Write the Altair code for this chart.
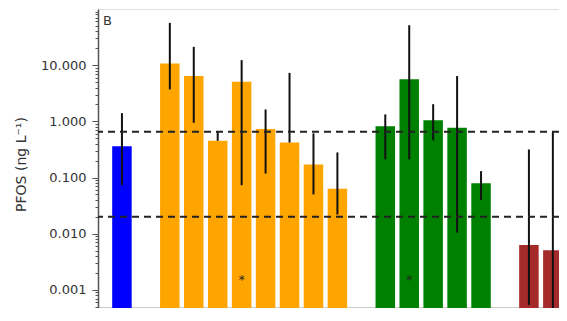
import altair as alt
import pandas as pd

# ---- data ----
positions = [0, 2, 3, 4, 5, 6, 7, 8, 9, 11, 12, 13, 14, 15, 17, 18]
groups = ["A"] + ["B"] * 8 + ["C"] * 5 + ["D"] * 2
values = [0.36, 10.7, 6.4, 0.45, 5.05, 0.73, 0.42, 0.17, 0.063,
          0.82, 5.6, 1.05, 0.77, 0.079, 0.0063, 0.0051]
err_low = [0.073, 3.7, 0.94, 0.45, 0.073, 0.118, 0.42, 0.050, 0.022,
           0.21, 0.21, 0.46, 0.0105, 0.040, 0.00054, 0.0003]
err_high = [1.4, 56.6, 21.2, 0.65, 12.3, 1.63, 7.3, 0.61, 0.28,
            1.33, 51.5, 2.02, 6.4, 0.13, 0.316, 0.65]
group_colors = ["#0000FF", "#FFA500", "#008000", "#A52A2A"]
thresholds = [0.65, 0.02]
star_positions = [5, 12]
star_value = [0.0016, 0.0016]

df = pd.DataFrame({"pos": positions, "group": groups, "value": values,
                   "lo": err_low, "hi": err_high})
thr = pd.DataFrame({"t": thresholds})
stars = pd.DataFrame({"pos": star_positions, "v": star_value, "s": ["*", "*"]})

SLOT = 23.94      # px per bar slot in the reference
DEC = 56.18       # px per decade in the reference
W, H = 461, 299
ymax = 100.0
ymin = 10 ** (2 - H / DEC)
minor = [k * 10 ** e for e in range(-4, 2) for k in range(1, 10)
         if ymin <= k * 10 ** e <= ymax]

is_decade = "abs(log(datum.value)/LN10 - round(log(datum.value)/LN10)) < 1e-6"

xscale = alt.Scale(domain=[-1, -1 + W / SLOT], nice=False, zero=False, padding=0)
yscale = alt.Scale(type="log", domain=[ymin, ymax], nice=False, padding=0)

xaxis = alt.Axis(values=positions, labels=False, title=None, ticks=True,
                 tickSize=3, tickColor="#333", domainColor="#333",
                 domainWidth=1.5, grid=False)
yaxis = alt.Axis(values=minor, grid=False,
                 labelExpr=f"{is_decade} ? format(datum.value, '.3f') : ''",
                 tickSize={"condition": {"test": is_decade, "value": 6}, "value": 3},
                 tickColor="#555", domainColor="#555", domainWidth=1.5,
                 labelFont="DejaVu Sans", labelFontSize=13, labelColor="#333",
                 labelPadding=6,
                 title="PFOS (ng L⁻¹)", titleFont="DejaVu Sans", titleFontSize=14,
                 titleFontWeight="normal", titleColor="#333",
                 titleX=-77, titleY=155, titleAngle=-90, titleAlign="center",
                 titleBaseline="middle")

bars = alt.Chart(df).mark_bar(size=19.5, clip=True).encode(
    x=alt.X("pos:Q", scale=xscale, axis=xaxis),
    y=alt.Y("value:Q", scale=yscale, axis=yaxis, stack=None),
    y2=alt.Y2(datum=ymin),
    color=alt.Color("group:N", scale=alt.Scale(domain=["A", "B", "C", "D"],
                                               range=group_colors), legend=None),
)

errs = alt.Chart(df).mark_rule(color="#111", strokeWidth=2, clip=True).encode(
    x="pos:Q", y="lo:Q", y2="hi:Q")

lines = alt.Chart(thr).mark_rule(color="#222", strokeWidth=2,
                                 strokeDash=[7, 5]).encode(y="t:Q")

star_text = alt.Chart(stars).mark_text(fontSize=12, baseline="middle",
                                       font="DejaVu Sans", color="#222",
                                       dy=2).encode(
    x="pos:Q", y="v:Q", text="s:N")

panel = alt.Chart(pd.DataFrame({"l": ["B"]})).mark_text(
    align="left", baseline="alphabetic", fontSize=13, font="DejaVu Sans",
    color="#333").encode(x=alt.value(5), y=alt.value(16), text="l:N")

chart = alt.layer(bars, errs, lines, star_text, panel).properties(
    width=W, height=H,
    padding={"left": 90, "top": 1, "right": 0, "bottom": 0},
    autosize=alt.AutoSizeParams(type="none"),
).configure_view(stroke="#9a9a9a", strokeWidth=2).configure(background="white")

chart.save("out.html", embed_options={"renderer": "svg", "actions": False})
